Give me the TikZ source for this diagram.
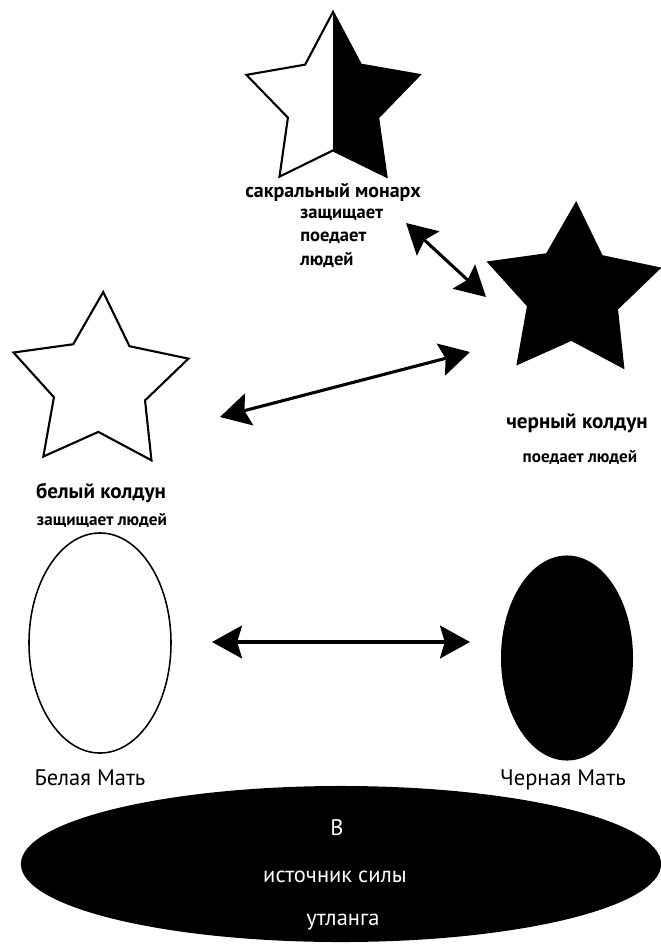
\documentclass[tikz,border=0pt]{standalone}
\usepackage{fontspec}
\setmainfont{PT Sans}
\usetikzlibrary{positioning,shapes.geometric,arrows.meta}

\tikzset{
  starshape/.style={star,star points=5,star point ratio=1.92,inner sep=0pt,
    outer sep=0pt,line width=1.5pt,line join=miter},
  mother/.style={ellipse,inner sep=0pt,outer sep=0pt},
  title/.style={font=\fontsize{15}{17}\selectfont\bfseries},
  subtitle/.style={font=\fontsize{12.2}{16.7}\selectfont\bfseries},
  caption/.style={font=\fontsize{16}{18}\selectfont},
  link/.style={line width=2.2pt,{Stealth[length=0.75cm,width=0.82cm,inset=0.12cm]}-{Stealth[length=0.75cm,width=0.82cm,inset=0.12cm]}}
}

\begin{document}
\begin{tikzpicture}[x=0.025cm,y=-0.025cm]
  \useasboundingbox (0,0) rectangle (660,945);

  % stars
  \node[starshape,draw,fill=white,minimum size=4.55cm,
    path picture={\fill[black] (path picture bounding box.north) rectangle (path picture bounding box.south east);}]
    (monarch) at (333,103) {};
  \node[starshape,fill=black,minimum size=4.6cm,shape border rotate=-2] (blackstar) at (573,293) {};
  \node[starshape,draw,fill=white,minimum size=4.6cm,shape border rotate=-2] (whitestar) at (100,384) {};

  % labels
  \node[title,font=\fontsize{14.2}{17}\selectfont\bfseries] (monarchlbl) at (333,192) {сакральный монарх};
  \node[subtitle,font=\fontsize{13.2}{16.7}\selectfont\bfseries,align=left,anchor=west,inner sep=0pt] (monarchsub) at (300,238) {защищает\\поедает\\людей};
  \node[title] (blacklbl) at (577,423) {черный колдун};
  \node[subtitle] (blacksub) at (580,457) {поедает людей};
  \node[title] (whitelbl) at (101,493) {белый колдун};
  \node[subtitle] (whitesub) at (102,520) {защищает людей};

  % mothers
  \node[mother,draw,line width=1.1pt,minimum width=3.55cm,minimum height=5.5cm] (whitemother) at (100,643) {};
  \node[mother,fill=black,minimum width=3.3cm,minimum height=5.125cm] (blackmother) at (567,658) {};
  \node[caption] (whitemotherlbl) at (90,778) {Белая Мать};
  \node[caption] (blackmotherlbl) at (563,780) {Черная Мать};

  % source
  \node[mother,fill=black,minimum width=16cm,minimum height=3.9cm] (source) at (341,864) {};
  \node[caption,text=white] (srcA) at (337,828) {В};
  \node[caption,text=white] (srcB) at (335,877) {источник силы};
  \node[caption,text=white] (srcC) at (343,922) {утланга};

  % arrows
  \coordinate (monarchend) at (406,223);
  \coordinate (blackend) at (486,297);
  \coordinate (whiteend) at (220,417);
  \coordinate (blackendb) at (470,352);
  \coordinate (wmotherend) at (212,642);
  \coordinate (bmotherend) at (470,642);
  \draw[link] (monarchend) -- (blackend);
  \draw[link] (whiteend) -- (blackendb);
  \draw[link] (wmotherend) -- (bmotherend);
\end{tikzpicture}
\end{document}
